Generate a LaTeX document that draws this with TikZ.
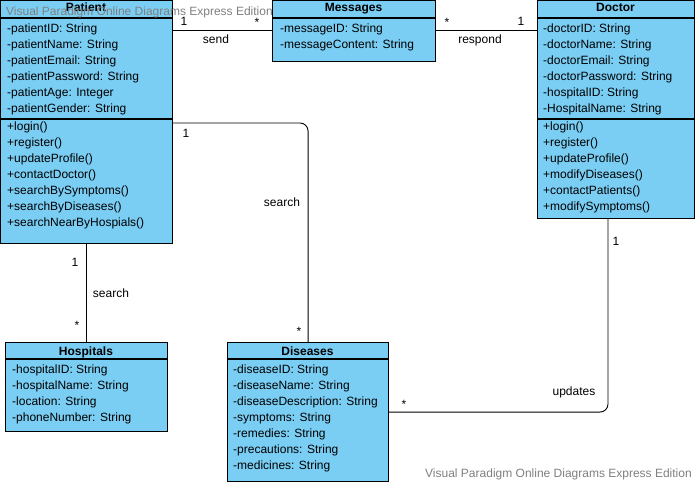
\documentclass[tikz,border=0pt]{standalone}
\usepackage{fontspec}
\setmainfont{Liberation Sans}
\definecolor{umlblue}{RGB}{122,206,244}
\definecolor{wmgray}{RGB}{128,128,128}
\tikzset{
  cls/.style={draw=black, line width=1.1pt, fill=umlblue, anchor=north west, inner sep=0pt},
  sepline/.style={draw=black, line width=1.1pt},
  attr/.style={anchor=base west, inner sep=0pt, font=\fontsize{12}{14}\selectfont},
  ttl/.style={anchor=base, inner sep=0pt, font=\fontsize{12}{14}\selectfont\bfseries},
  lbl/.style={anchor=base, inner sep=0pt, font=\fontsize{12}{14}\selectfont},
  conn/.style={draw=black, line width=0.9pt},
  wm/.style={anchor=base west, inner sep=0pt, text=wmgray, font=\fontsize{12}{14}\selectfont}
}
\begin{document}
\begin{tikzpicture}[x=1pt,y=-1pt]
\useasboundingbox (0,0) rectangle (697,484);
\fill[white] (0,0) rectangle (697,484);

% ---------- connectors (drawn first) ----------
\node[cls, minimum width=172pt, minimum height=243pt] (pat) at (0,0) {};
\node[cls, minimum width=163pt, minimum height=61pt] (msg) at (272,0) {};
\node[cls, minimum width=157pt, minimum height=218pt] (doc) at (537,0) {};
\node[cls, minimum width=162pt, minimum height=89pt] (hos) at (5,342) {};
\node[cls, minimum width=161pt, minimum height=139pt] (dis) at (227,342) {};

\draw[conn] (pat.east |- 0,30) -- (msg.west |- 0,30);
\draw[conn] (msg.east |- 0,30) -- (doc.west |- 0,30);
\draw[conn] (pat.south) -- (hos.north);
\draw[conn, rounded corners=8pt] (pat.east |- 0,123) -| (dis.north);
\draw[conn, rounded corners=8pt] (doc.south -| 608,0) |- (dis.east);

% ---------- Patient ----------
\draw[sepline] (pat.north west |- 0,18) -- (pat.north east |- 0,18);
\draw[sepline] (pat.north west |- 0,119) -- (pat.north east |- 0,119);
\node[ttl] (patT) at (86,12) {Patient};
\node[attr] (pa1) at (7,33) {-patientID: String};
\node[attr] (pa2) at (7,49) {-patientName: String};
\node[attr] (pa3) at (7,65) {-patientEmail: String};
\node[attr] (pa4) at (7,81) {-patientPassword: String};
\node[attr] (pa5) at (7,97) {-patientAge: Integer};
\node[attr] (pa6) at (7,113) {-patientGender: String};
\node[attr] (pm1) at (7,131) {+login()};
\node[attr] (pm2) at (7,147) {+register()};
\node[attr] (pm3) at (7,163) {+updateProfile()};
\node[attr] (pm4) at (7,179) {+contactDoctor()};
\node[attr] (pm5) at (7,195) {+searchBySymptoms()};
\node[attr] (pm6) at (7,211) {+searchByDiseases()};
\node[attr] (pm7) at (7,227) {+searchNearByHospials()};

% ---------- Messages ----------
\draw[sepline] (msg.north west |- 0,18) -- (msg.north east |- 0,18);
\node[ttl] (msgT) at (353.5,12) {Messages};
\node[attr] (ma1) at (280,33) {-messageID: String};
\node[attr] (ma2) at (280,49) {-messageContent: String};

% ---------- Doctor ----------
\draw[sepline] (doc.north west |- 0,18) -- (doc.north east |- 0,18);
\draw[sepline] (doc.north west |- 0,119) -- (doc.north east |- 0,119);
\node[ttl] (docT) at (615.5,12) {Doctor};
\node[attr] (da1) at (543,33) {-doctorID: String};
\node[attr] (da2) at (543,49) {-doctorName: String};
\node[attr] (da3) at (543,65) {-doctorEmail: String};
\node[attr] (da4) at (543,81) {-doctorPassword: String};
\node[attr] (da5) at (543,97) {-hospitalID: String};
\node[attr] (da6) at (543,113) {-HospitalName: String};
\node[attr] (dm1) at (543,131) {+login()};
\node[attr] (dm2) at (543,147) {+register()};
\node[attr] (dm3) at (543,163) {+updateProfile()};
\node[attr] (dm4) at (543,179) {+modifyDiseases()};
\node[attr] (dm5) at (543,195) {+contactPatients()};
\node[attr] (dm6) at (543,211) {+modifySymptoms()};

% ---------- Hospitals ----------
\draw[sepline] (hos.north west |- 0,359) -- (hos.north east |- 0,359);
\node[ttl] (hosT) at (86,355) {Hospitals};
\node[attr] (ha1) at (12,373) {-hospitalID: String};
\node[attr] (ha2) at (12,389) {-hospitalName: String};
\node[attr] (ha3) at (12,405) {-location: String};
\node[attr] (ha4) at (12,421) {-phoneNumber: String};

% ---------- Diseases ----------
\draw[sepline] (dis.north west |- 0,359) -- (dis.north east |- 0,359);
\node[ttl] (disT) at (307.5,355) {Diseases};
\node[attr] (di1) at (233,373) {-diseaseID: String};
\node[attr] (di2) at (233,389) {-diseaseName: String};
\node[attr] (di3) at (233,405) {-diseaseDescription: String};
\node[attr] (di4) at (233,421) {-symptoms: String};
\node[attr] (di5) at (233,437) {-remedies: String};
\node[attr] (di6) at (233,453) {-precautions: String};
\node[attr] (di7) at (233,469) {-medicines: String};

% ---------- connector labels ----------
\node[lbl] (l1) at (184,26) {1};
\node[lbl] (l2) at (257,27) {*};
\node[lbl] (l3) at (216,44) {send};
\node[lbl] (l4) at (447,27) {*};
\node[lbl] (l5) at (521,26) {1};
\node[lbl] (l6) at (480,44) {respond};
\node[lbl] (l7) at (75,266) {1};
\node[lbl] (l8) at (111,298) {search};
\node[lbl] (l9) at (77,329) {*};
\node[lbl] (l10) at (186,138) {1};
\node[lbl] (l11) at (282,207) {search};
\node[lbl] (l12) at (299,335) {*};
\node[lbl] (l13) at (616,246) {1};
\node[lbl] (l14) at (574,395) {updates};
\node[lbl] (l15) at (404,408) {*};

% ---------- watermarks ----------
\node[wm] (wm1) at (6,16) {Visual Paradigm Online Diagrams Express Edition};
\node[wm] (wm2) at (425,477) {Visual Paradigm Online Diagrams Express Edition};
\end{tikzpicture}
\end{document}
